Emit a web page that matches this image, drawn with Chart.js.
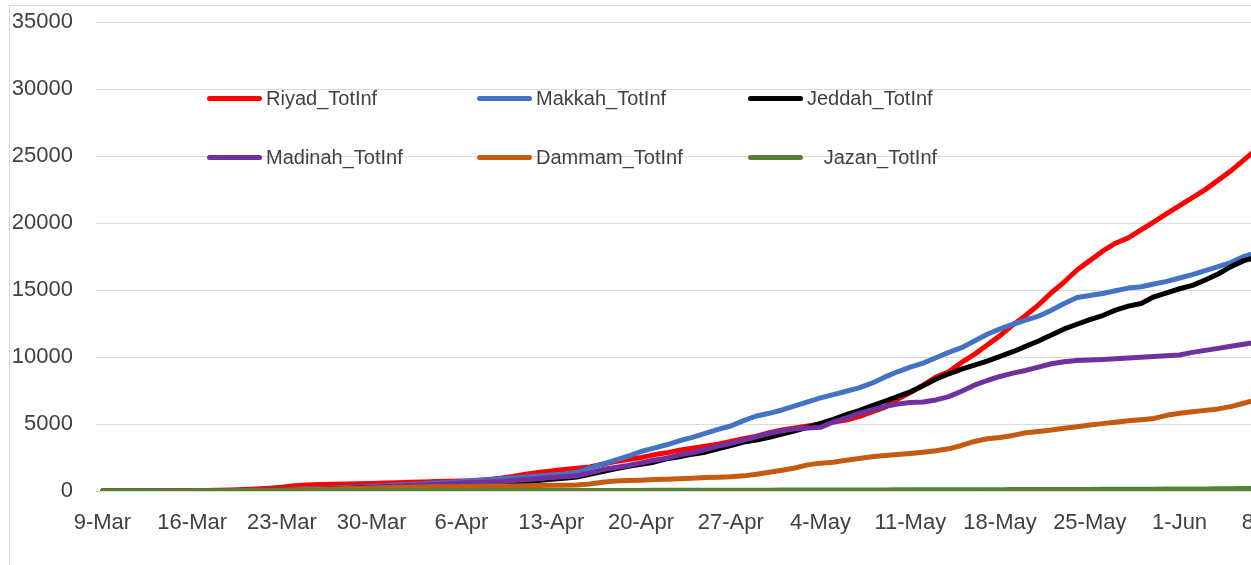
<!DOCTYPE html>
<html>
<head>
<meta charset="utf-8">
<script src="https://cdn.jsdelivr.net/npm/chart.js@4.4.1/dist/chart.umd.min.js"></script>
<style>
  html, body { margin: 0; padding: 0; background: #fff; overflow: hidden; }
  body { width: 1251px; height: 565px; position: relative; font-family: "Liberation Sans", Arial, sans-serif; }
  .frame { position: absolute; left: 9px; top: 5px; width: 1500px; height: 800px;
           border-left: 1px solid #d9d9d9; border-top: 1px solid #d9d9d9; }
  #chart { position: absolute; left: 0; top: -14px; }
  .legend-item { position: absolute; height: 24px; display: flex; align-items: center; white-space: pre;
                 font-size: 20px; color: #404040; }
  .legend-item .swatch { width: 55px; height: 5px; border-radius: 3px; margin-right: 4px; }
</style>
</head>
<body>
<div class="frame"></div>
<canvas id="chart" width="1308" height="579"></canvas>
<div id="legend"></div>
<script>
// Daily categories, 9-Mar .. 8-Jun
const dates = [
  '9-Mar','10-Mar','11-Mar','12-Mar','13-Mar','14-Mar','15-Mar','16-Mar','17-Mar','18-Mar','19-Mar','20-Mar',
  '21-Mar','22-Mar','23-Mar','24-Mar','25-Mar','26-Mar','27-Mar','28-Mar','29-Mar','30-Mar','31-Mar',
  '1-Apr','2-Apr','3-Apr','4-Apr','5-Apr','6-Apr','7-Apr','8-Apr','9-Apr','10-Apr','11-Apr','12-Apr','13-Apr',
  '14-Apr','15-Apr','16-Apr','17-Apr','18-Apr','19-Apr','20-Apr','21-Apr','22-Apr','23-Apr','24-Apr','25-Apr',
  '26-Apr','27-Apr','28-Apr','29-Apr','30-Apr',
  '1-May','2-May','3-May','4-May','5-May','6-May','7-May','8-May','9-May','10-May','11-May','12-May','13-May',
  '14-May','15-May','16-May','17-May','18-May','19-May','20-May','21-May','22-May','23-May','24-May','25-May',
  '26-May','27-May','28-May','29-May','30-May','31-May',
  '1-Jun','2-Jun','3-Jun','4-Jun','5-Jun','6-Jun','7-Jun','8-Jun'
];

// Tick labels shown on the x axis
const tickLabels = ['9-Mar','16-Mar','23-Mar','30-Mar','6-Apr','13-Apr','20-Apr','27-Apr',
                    '4-May','11-May','18-May','25-May','1-Jun','8-Jun'];

const riyad = [
  0,0,1,2,3,5,10,17,30,50,80,110,150,210,280,390,450,480,500,520,540,560,590,
  620,650,680,700,720,750,790,850,950,1080,1250,1380,1500,1600,1700,1800,2000,2200,2350,2500,
  2700,2850,3050,3200,3350,3500,3700,3900,4100,4350,
  4550,4700,4850,5000,5150,5300,5550,5900,6250,6850,7350,7900,8500,8900,9600,10200,10900,11600,
  12400,13100,13900,14800,15600,16500,17200,17900,18500,18900,19500,20100,20700,
  21300,21900,22500,23200,23900,24700,25500,26300
];

const makkah = [
  0,0,0,0,2,5,8,10,15,20,30,45,60,80,100,130,160,190,220,260,300,340,390,
  440,490,540,590,640,700,760,830,900,970,1040,1120,1200,1270,1400,1700,2000,2300,2600,2950,
  3200,3450,3750,4000,4300,4600,4850,5250,5600,5800,
  6050,6350,6650,6950,7200,7450,7700,8050,8500,8900,9250,9550,9950,10350,10700,11200,11700,12100,
  12450,12750,13050,13500,14000,14450,14600,14750,14950,15150,15250,15450,15650,
  15900,16150,16450,16750,17050,17500,17800,18100
];

const jeddah = [
  0,0,0,1,2,3,4,5,8,12,20,30,45,60,80,100,120,140,160,190,220,250,290,
  340,370,400,430,460,490,520,540,560,620,680,780,880,950,1050,1250,1450,1650,1850,2000,
  2150,2400,2550,2750,2900,3150,3400,3650,3800,4000,
  4250,4500,4750,5050,5350,5700,6000,6350,6700,7050,7400,7850,8350,8750,9100,9400,9700,10050,
  10400,10800,11200,11650,12100,12450,12800,13100,13500,13800,14000,14500,14800,
  15100,15350,15750,16200,16750,17200,17450,17700
];

const madinah = [
  0,0,0,0,1,1,2,3,5,8,12,18,25,35,50,70,90,110,140,170,210,250,300,
  350,400,440,490,540,590,630,670,710,780,850,920,1000,1060,1130,1350,1600,1750,1900,2100,
  2300,2450,2700,2850,3100,3350,3550,3800,4050,4300,
  4500,4650,4700,4750,5150,5450,5800,6050,6300,6500,6600,6650,6800,7050,7450,7900,8250,8550,
  8800,9000,9250,9500,9650,9750,9780,9820,9880,9930,9980,10050,10100,
  10150,10350,10500,10650,10800,10950,11100,11200
];

const dammam = [
  0,0,0,1,2,4,6,10,14,19,25,32,40,55,70,90,110,130,150,170,190,210,230,
  260,280,300,310,320,330,340,360,370,380,400,410,420,430,440,520,650,740,780,810,
  850,880,920,960,1000,1030,1060,1130,1250,1400,
  1550,1720,1950,2080,2150,2300,2420,2550,2650,2720,2800,2900,3000,3150,3400,3700,3900,4000,
  4150,4350,4450,4550,4680,4800,4930,5030,5130,5240,5320,5420,5650,
  5800,5920,6020,6130,6300,6550,6800,7000
];

const jazan = [
  0,0,0,0,0,0,0,1,1,2,3,4,4,5,6,7,9,10,11,13,14,15,17,
  19,20,21,23,24,25,27,29,30,31,33,34,35,37,38,40,41,43,45,46,
  48,50,51,53,55,56,58,60,62,64,
  66,68,70,72,74,76,78,80,82,84,86,88,90,92,94,96,98,100,
  103,106,108,111,114,117,120,123,127,130,134,138,142,
  147,152,158,165,172,180,190,200
];

const seriesNames = ['Riyad_TotInf', 'Makkah_TotInf', 'Jeddah_TotInf', 'Madinah_TotInf', 'Dammam_TotInf', '   Jazan_TotInf'];
const seriesData = [riyad, makkah, jeddah, madinah, dammam, jazan];
const seriesColors = ['#ff0000', '#4472c4', '#000000', '#7030a0', '#c55a11', '#548235'];

const textColor = '#404040';
const tickFont = { family: '"Liberation Sans", Arial, sans-serif', size: 22 };

const datasets = seriesNames.map(function(name, i) {
    return {
        label: name.trim(),
        data: seriesData[i],
        borderColor: seriesColors[i],
        backgroundColor: seriesColors[i],
        // Excel draws later series on top
        order: seriesNames.length - i
    };
});

new Chart(document.getElementById('chart'), {
    type: 'line',
    data: { labels: dates, datasets: datasets },
    options: {
        responsive: false,
        animation: false,
        layout: { padding: { top: 8, right: 25.5, bottom: 0, left: 0 } },
        elements: {
            line: { borderWidth: 5, tension: 0, borderCapStyle: 'round', borderJoinStyle: 'round' },
            point: { radius: 0, hoverRadius: 0 }
        },
        plugins: { legend: { display: false }, tooltip: { enabled: false } },
        scales: {
            x: {
                type: 'category',
                offset: true,
                grid: { display: false },
                border: { display: false },
                ticks: {
                    autoSkip: false,
                    maxRotation: 0,
                    padding: 11,
                    color: textColor,
                    font: tickFont,
                    callback: function(value, index) {
                        const lab = dates[index];
                        return tickLabels.indexOf(lab) > -1 ? lab : null;
                    }
                },
                afterFit: function(scale) { scale.height = 74; }
            },
            y: {
                min: 0,
                max: 35000,
                grid: { color: '#d9d9d9', lineWidth: 1, drawTicks: false },
                border: { display: false },
                ticks: {
                    stepSize: 5000, padding: 23, color: textColor, font: tickFont,
                    callback: function(value) { return String(value); }
                },
                afterFit: function(scale) { scale.width = 96; }
            }
        }
    }
});

// Legend placed inside the plot, two rows of three
const legendPos = [
    { left: 207, top: 98 }, { left: 477, top: 98 }, { left: 748, top: 98 },
    { left: 207, top: 157 }, { left: 477, top: 157 }, { left: 748, top: 157 }
];
const legend = document.getElementById('legend');
seriesNames.forEach(function(name, i) {
    const item = document.createElement('div');
    item.className = 'legend-item';
    item.style.left = legendPos[i].left + 'px';
    item.style.top = (legendPos[i].top - 12) + 'px';
    const sw = document.createElement('span');
    sw.className = 'swatch';
    sw.style.background = seriesColors[i];
    item.appendChild(sw);
    item.appendChild(document.createTextNode(name));
    legend.appendChild(item);
});
</script>
</body>
</html>
